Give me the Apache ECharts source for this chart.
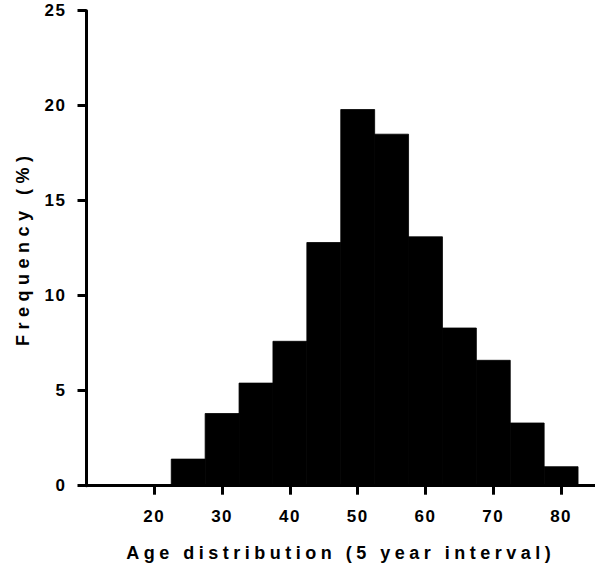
<!DOCTYPE html>
<html>
<head>
<meta charset="utf-8">
<script src="https://cdn.jsdelivr.net/npm/echarts@6/dist/echarts.min.js"></script>
<style>
html,body{margin:0;padding:0;background:#fff;}
#chart{width:595px;height:569px;}
</style>
</head>
<body>
<div id="chart"></div>
<script>
// Histogram data (age bins, 5-year interval)
const binCenters = [25, 30, 35, 40, 45, 50, 55, 60, 65, 70, 75, 80];
const frequency = [1.4, 3.8, 5.4, 7.6, 12.8, 19.8, 18.5, 13.1, 8.3, 6.6, 3.3, 1.0];
const binWidth = 5;
const xTickValues = [20, 30, 40, 50, 60, 70, 80];
const yTickValues = [0, 5, 10, 15, 20, 25];
const xTitle = 'Age distribution (5 year interval)';
const yTitle = 'Frequency (%)';

const chart = echarts.init(document.getElementById('chart'), null, {renderer: 'svg'});
const font = '"Liberation Sans", Arial, sans-serif';
chart.setOption({
  animation: false,
  backgroundColor: '#fff',
  grid: {left: 86.5, right: 0, top: 10.7, bottom: 83.3, containLabel: false},
  xAxis: {
    type: 'value', min: 10, max: 85, z: 5,
    name: xTitle, nameLocation: 'middle', nameGap: 58,
    nameTextStyle: {fontFamily: font, fontWeight: 'bold', fontSize: 18, color: '#000'},
    axisLine: {show: true, onZero: false, lineStyle: {color: '#000', width: 3}},
    axisTick: {show: true, length: 9, lineStyle: {color: '#000', width: 3}, customValues: xTickValues},
    axisLabel: {customValues: xTickValues, margin: 22, fontFamily: font, fontWeight: 'bold', fontSize: 17, color: '#000'},
    splitLine: {show: false}
  },
  yAxis: {
    type: 'value', min: 0, max: 25, interval: 5, z: 5,
    name: yTitle, nameLocation: 'middle', nameGap: 55,
    nameTextStyle: {fontFamily: font, fontWeight: 'bold', fontSize: 18, color: '#000'},
    axisLine: {show: true, lineStyle: {color: '#000', width: 3}},
    axisTick: {show: true, length: 9, lineStyle: {color: '#000', width: 3}, customValues: yTickValues},
    axisLabel: {customValues: yTickValues, margin: 20, fontFamily: font, fontWeight: 'bold', fontSize: 17, color: '#000'},
    splitLine: {show: false}
  },
  series: [{
    type: 'custom',
    z: 1,
    data: binCenters.map((c, i) => [c, frequency[i]]),
    encode: {x: 0, y: 1},
    renderItem: function (params, api) {
      const c = api.value(0), v = api.value(1);
      const p0 = api.coord([c - binWidth / 2, 0]);
      const p1 = api.coord([c + binWidth / 2, v]);
      return {
        type: 'rect',
        shape: {x: p0[0], y: p1[1], width: p1[0] - p0[0], height: p0[1] - p1[1]},
        style: {fill: '#000', stroke: '#000', lineWidth: 0.8}
      };
    }
  }]
});
// letter spacing like the original typesetting
document.querySelectorAll('#chart text').forEach(t => {
  const s = t.textContent || '';
  let sp = '1.5px';
  if (s === xTitle) sp = '4.5px';
  else if (s === yTitle) sp = '5.5px';
  t.setAttribute('letter-spacing', sp);
});
</script>
</body>
</html>
